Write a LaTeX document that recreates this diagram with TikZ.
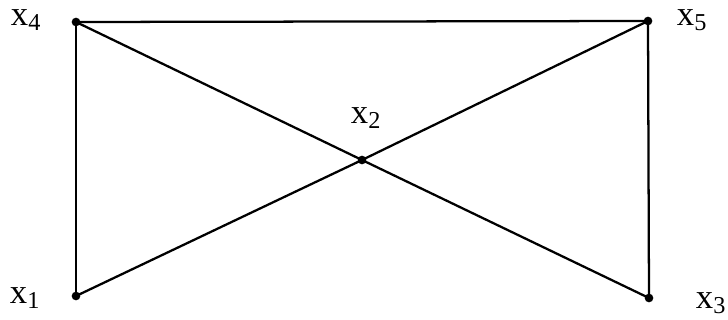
\documentclass[tikz,border=0pt]{standalone}
\usepackage{fontspec}
\setmainfont{Liberation Serif}

\tikzset{every picture/.style={line width=1.7pt}}
\tikzset{
  vtx/.style={circle,fill=black,inner sep=0pt,minimum size=6.5pt},
  lbl/.style={inner sep=0.75pt,font=\fontsize{26}{30}\selectfont}
}

\begin{document}
\begin{tikzpicture}[x=0.75pt,y=0.75pt,yscale=-1,xscale=1]
\useasboundingbox (0,0) rectangle (728,320);

%Vertices
\node [vtx] (v4) at (76,22) {};
\node [vtx] (v5) at (648,21) {};
\node [vtx] (v2) at (362,160) {};
\node [vtx] (v1) at (76,296) {};
\node [vtx] (v3) at (649,298) {};

%Edges
\draw (v4.center) -- (v5.center) ;
\draw (v4.center) -- (v1.center) ;
\draw (v5.center) -- (v3.center) ;
\draw (v4.center) -- (v2.center) -- (v3.center) ;
\draw (v1.center) -- (v2.center) -- (v5.center) ;

% Text Node
\node [lbl] (l4) at (26,20) {x\textsubscript{4}};
% Text Node
\node [lbl] (l5) at (692,20) {x\textsubscript{5}};
% Text Node
\node [lbl] (l2) at (366,118) {x\textsubscript{2}};
% Text Node
\node [lbl] (l1) at (25,298) {x\textsubscript{1}};
% Text Node
\node [lbl] (l3) at (711,303) {x\textsubscript{3}};

\end{tikzpicture}
\end{document}
